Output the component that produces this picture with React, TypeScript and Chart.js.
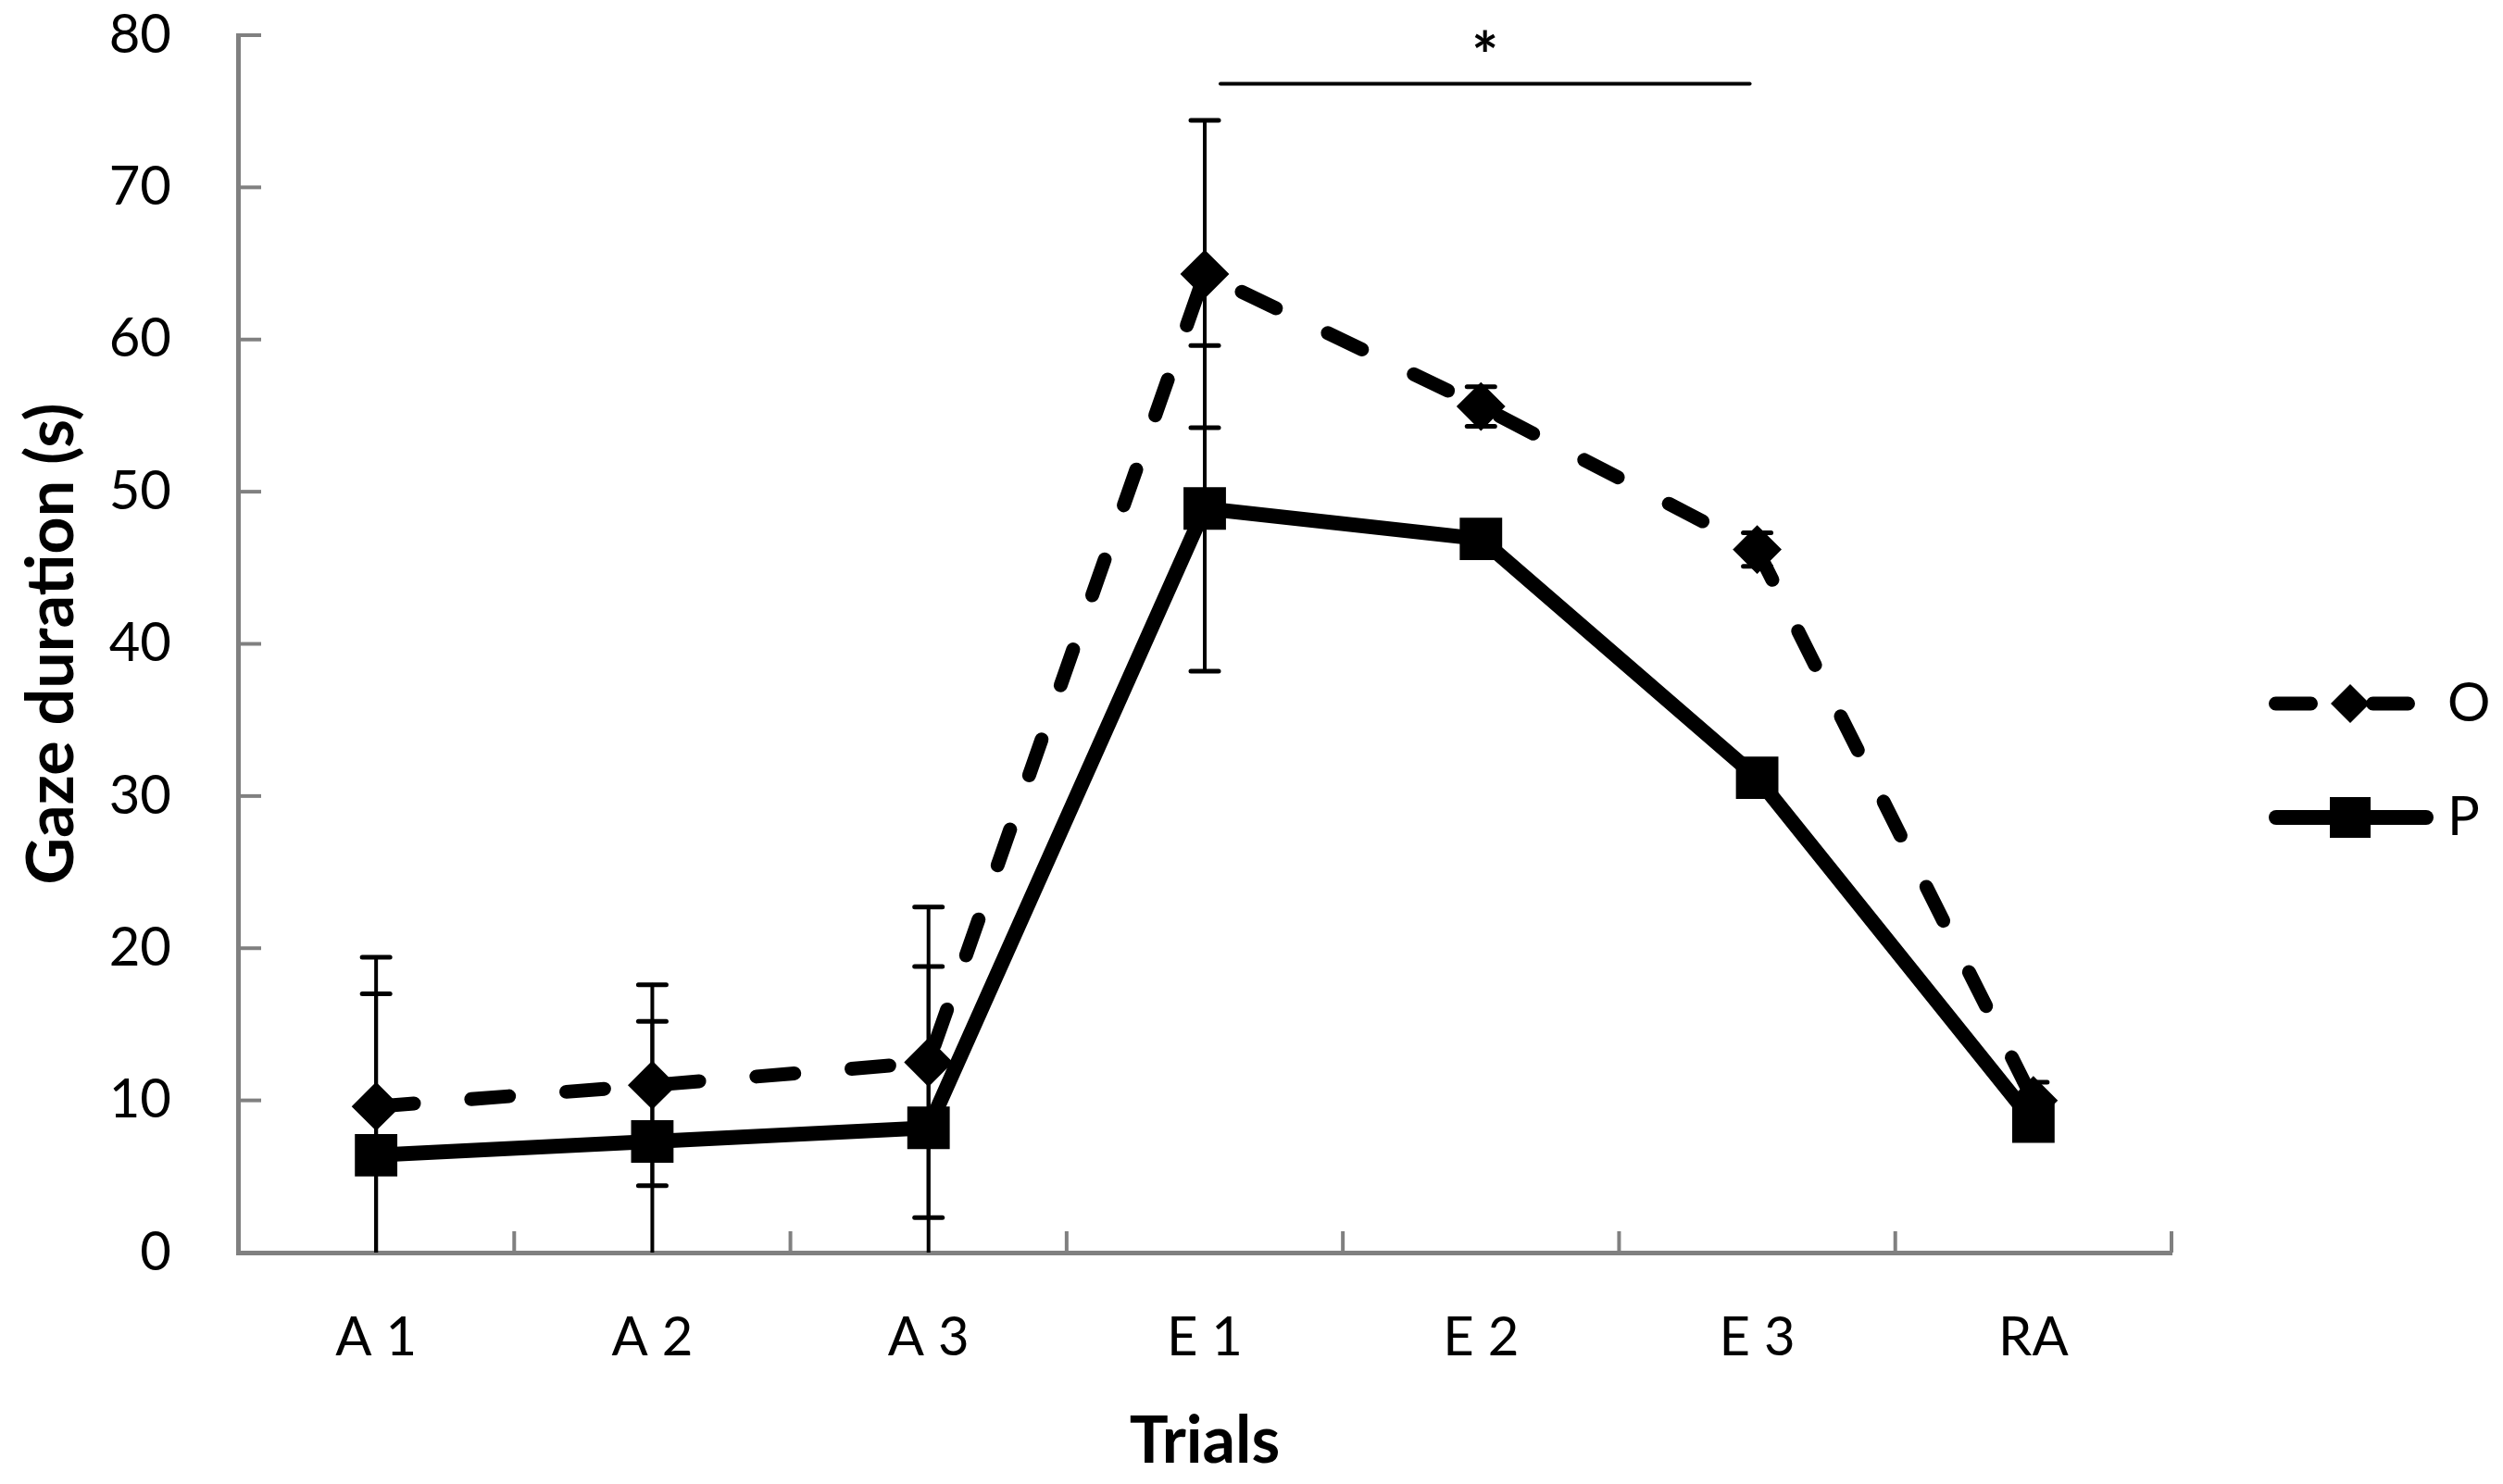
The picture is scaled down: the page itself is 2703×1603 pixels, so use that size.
import React, { useEffect, useRef } from 'react';
import { Chart, registerables } from 'chart.js';
import type { Plugin } from 'chart.js';

Chart.register(...registerables);

// categories and series
const trials = ['A 1', 'A 2', 'A 3', 'E 1', 'E 2', 'E 3', 'RA'];
const oMeans = [9.6, 11.0, 12.5, 64.3, 55.6, 46.2, 10.0];
const oErrors = [9.8, 6.6, 10.2, 10.1, 1.3, 1.1, 1.2];
const pMeans = [6.4, 7.3, 8.2, 48.9, 46.9, 31.2, 8.6];
const pErrors = [10.6, 7.9, 10.6, 10.7, 0.8, 0.8, 0.6];

const yMin = 0;
const yMax = 80;
const yStep = 10;

// significance bracket between E1 and E3
const sigFrom = 'E 1';
const sigTo = 'E 3';
const sigLevel = 76.8;
const sigLabel = '*';

const FONT = 'Lato, "Open Sans", sans-serif';
const AXIS_GREY = '#808080';

const errorBars: Plugin<'line'> = {
  id: 'errorBars',
  beforeDatasetsDraw(chart) {
    const { ctx, chartArea: a } = chart;
    const x = chart.scales.x;
    const y = chart.scales.y;
    ctx.save();
    ctx.beginPath();
    ctx.rect(a.left, a.top - 30, a.right - a.left, a.bottom - a.top + 30);
    ctx.clip();
    ctx.strokeStyle = '#000';
    ctx.lineCap = 'round';
    chart.data.datasets.forEach((ds: any) => {
      const errs: number[] = ds.errors || [];
      (ds.data as number[]).forEach((v, i) => {
        const e = errs[i];
        if (!e) return;
        const px = x.getPixelForValue(i);
        const hi = y.getPixelForValue(v + e);
        const lo = y.getPixelForValue(v - e);
        ctx.lineWidth = 4;
        ctx.beginPath();
        ctx.moveTo(px, hi);
        ctx.lineTo(px, lo);
        ctx.stroke();
        ctx.lineWidth = 5;
        [hi, lo].forEach((cy) => {
          ctx.beginPath();
          ctx.moveTo(px - 15, cy);
          ctx.lineTo(px + 15, cy);
          ctx.stroke();
        });
      });
    });
    ctx.restore();
  },
};

// Excel-style tick marks that point into the plot
const innerTicks: Plugin<'line'> = {
  id: 'innerTicks',
  beforeDatasetsDraw(chart) {
    const { ctx, chartArea: a } = chart;
    const x = chart.scales.x;
    const y = chart.scales.y;
    ctx.save();
    ctx.strokeStyle = AXIS_GREY;
    ctx.lineWidth = 4;
    y.ticks.forEach((t) => {
      const py = y.getPixelForValue(t.value);
      ctx.beginPath();
      ctx.moveTo(a.left, py);
      ctx.lineTo(a.left + 25, py);
      ctx.stroke();
    });
    const half = (x.getPixelForValue(1) - x.getPixelForValue(0)) / 2;
    trials.forEach((_, i) => {
      const px = x.getPixelForValue(i) + half;
      ctx.beginPath();
      ctx.moveTo(px, a.bottom);
      ctx.lineTo(px, a.bottom - 23);
      ctx.stroke();
    });
    ctx.restore();
  },
};

const sigBracket: Plugin<'line'> = {
  id: 'sigBracket',
  afterDatasetsDraw(chart) {
    const { ctx } = chart;
    const x = chart.scales.x;
    const y = chart.scales.y;
    const x1 = x.getPixelForValue(trials.indexOf(sigFrom)) + 17;
    const x2 = x.getPixelForValue(trials.indexOf(sigTo)) - 8;
    const py = y.getPixelForValue(sigLevel);
    ctx.save();
    ctx.strokeStyle = '#000';
    ctx.lineWidth = 4;
    ctx.lineCap = 'round';
    ctx.beginPath();
    ctx.moveTo(x1, py);
    ctx.lineTo(x2, py);
    ctx.stroke();
    ctx.fillStyle = '#000';
    ctx.font = `bold 68px ${FONT}`;
    ctx.textAlign = 'center';
    ctx.textBaseline = 'alphabetic';
    ctx.fillText(sigLabel, (x1 + x2) / 2, py - 6);
    ctx.restore();
  },
};

// legend on the right: line with the marker in its middle
const sideLegend: Plugin<'line'> = {
  id: 'sideLegend',
  afterDraw(chart) {
    const { ctx } = chart;
    const rows = [760, 883];
    const lineStart = 2450;
    const marker = 2538;
    const textX = 2643;
    const items = chart.data.datasets.map((ds: any) => ds).sort((a: any, b: any) => b.order - a.order);
    ctx.save();
    items.forEach((ds: any, k: number) => {
      const cy = rows[k];
      const lw = ds.borderWidth;
      ctx.strokeStyle = '#000';
      ctx.fillStyle = '#000';
      ctx.lineWidth = lw;
      ctx.lineCap = 'round';
      if (ds.borderDash && ds.borderDash.length) {
        ctx.beginPath();
        ctx.moveTo(lineStart + lw / 2, cy);
        ctx.lineTo(2503 - lw / 2, cy);
        ctx.moveTo(2555 + lw / 2, cy);
        ctx.lineTo(2608 - lw / 2, cy);
        ctx.stroke();
      } else {
        ctx.beginPath();
        ctx.moveTo(lineStart + lw / 2, cy);
        ctx.lineTo(2628 - lw / 2, cy);
        ctx.stroke();
      }
      ctx.beginPath();
      if (ds.pointStyle === 'rectRot') {
        const r = 21;
        ctx.moveTo(marker - r, cy);
        ctx.lineTo(marker, cy - r);
        ctx.lineTo(marker + r, cy);
        ctx.lineTo(marker, cy + r);
        ctx.closePath();
      } else {
        const s = 22;
        ctx.rect(marker - s, cy - s, 2 * s, 2 * s);
      }
      ctx.fill();
      ctx.font = `58px ${FONT}`;
      ctx.textAlign = 'left';
      ctx.textBaseline = 'middle';
      ctx.fillText(ds.label, textX, cy);
    });
    ctx.restore();
  },
};

export default function App() {
  const canvasRef = useRef<HTMLCanvasElement>(null);

  useEffect(() => {
    if (!canvasRef.current) return;
    const chart = new Chart(canvasRef.current, {
      type: 'line',
      data: {
        labels: trials,
        datasets: [
          {
            label: 'O',
            data: oMeans,
            errors: oErrors,
            borderColor: '#000',
            backgroundColor: '#000',
            borderWidth: 15,
            borderDash: [41, 62],
            borderCapStyle: 'round',
            borderJoinStyle: 'round',
            pointStyle: 'rectRot',
            pointRadius: 25,
            pointBorderWidth: 2,
            pointBackgroundColor: '#000',
            pointBorderColor: '#000',
            tension: 0,
            order: 1,
          } as any,
          {
            label: 'P',
            data: pMeans,
            errors: pErrors,
            borderColor: '#000',
            backgroundColor: '#000',
            borderWidth: 16,
            borderJoinStyle: 'round',
            pointStyle: 'rect',
            pointRadius: 31,
            pointBorderWidth: 2,
            pointBackgroundColor: '#000',
            pointBorderColor: '#000',
            tension: 0,
            order: 0,
          } as any,
        ],
      },
      options: {
        animation: false,
        responsive: true,
        maintainAspectRatio: false,
        devicePixelRatio: 1,
        events: [],
        layout: { padding: { top: 38, right: 358, left: 0, bottom: 0 } },
        plugins: {
          legend: { display: false },
          tooltip: { enabled: false },
        },
        scales: {
          x: {
            type: 'category',
            offset: true,
            grid: { drawOnChartArea: false, drawTicks: false, offset: true },
            border: { display: true, color: AXIS_GREY, width: 5 },
            ticks: { padding: 57, color: '#000', font: { family: FONT, size: 58 } },
            title: {
              display: true,
              text: 'Trials',
              color: '#000',
              font: { family: FONT, size: 70, weight: 'bold' },
              padding: { top: 0, bottom: 4 },
            },
            afterFit: (s: any) => {
              s.height = 250;
              s.paddingLeft = 0;
              s.paddingRight = 0;
            },
          },
          y: {
            min: yMin,
            max: yMax,
            grid: { drawOnChartArea: false, drawTicks: false },
            border: { display: true, color: AXIS_GREY, width: 5 },
            ticks: { stepSize: yStep, padding: 72, color: '#000', font: { family: FONT, size: 58 } },
            title: {
              display: true,
              text: 'Gaze duration (s)',
              color: '#000',
              font: { family: FONT, size: 70, weight: 'bold' },
              padding: { top: 14, bottom: 0 },
            },
            afterFit: (s: any) => {
              s.width = 257;
              s.paddingTop = 0;
              s.paddingBottom = 0;
            },
          },
        },
      },
      plugins: [innerTicks, errorBars, sigBracket, sideLegend],
    });
    return () => {
      chart.destroy();
    };
  }, []);

  return (
    <div style={{ position: 'fixed', left: 0, top: 0, width: '2703px', height: '1603px', background: '#fff' }}>
      <canvas ref={canvasRef} aria-label="Gaze duration by trial" role="img"></canvas>
    </div>
  );
}
